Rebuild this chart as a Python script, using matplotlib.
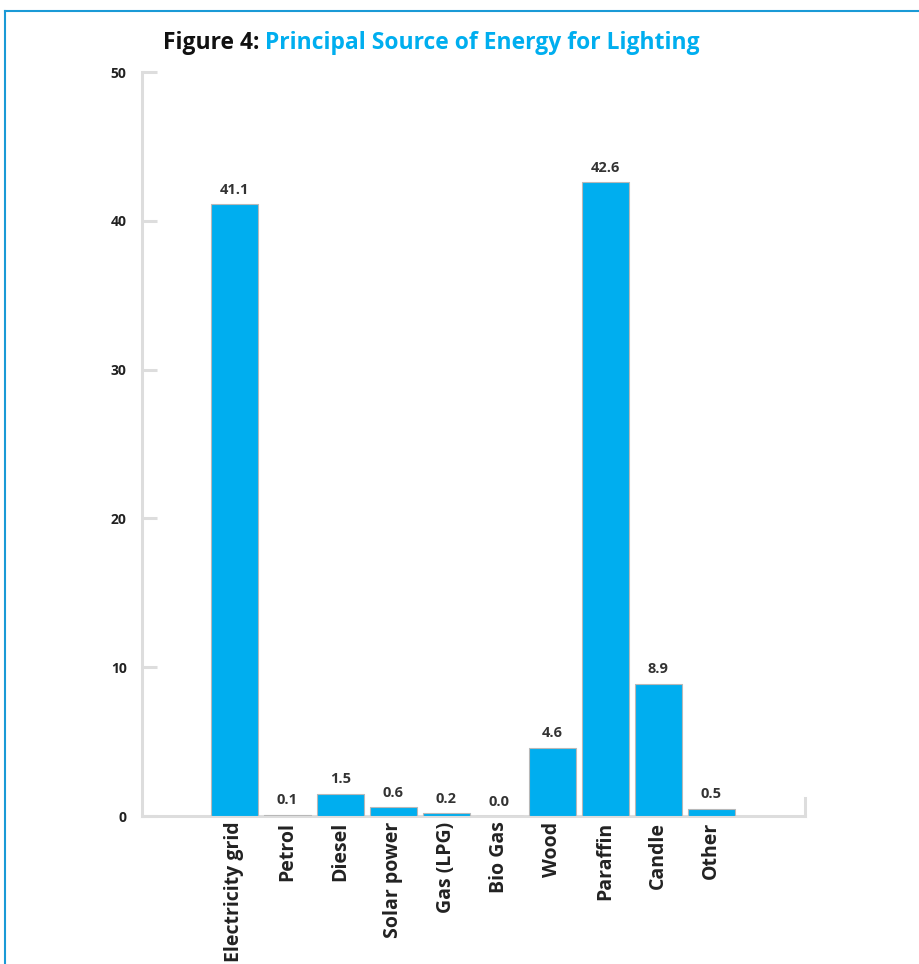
import matplotlib
matplotlib.use("Agg")
import matplotlib.pyplot as plt
from matplotlib.lines import Line2D
import numpy as np

# data
categories = ["Electricity grid", "Petrol", "Diesel", "Solar power", "Gas (LPG)",
              "Bio Gas", "Wood", "Paraffin", "Candle", "Other"]
values = [41.1, 0.1, 1.5, 0.6, 0.2, 0.0, 4.6, 42.6, 8.9, 0.5]
y_ticks = [0, 10, 20, 30, 40, 50]

BLUE = "#00aeef"
SPINE = "#dddddd"
FONT = "Open Sans"

fig = plt.figure(figsize=(9.2, 9.64), dpi=100)
ax = fig.add_axes([142 / 920, 1 - 816 / 964, (805 - 142) / 920, (816 - 72) / 964])

x = np.arange(len(categories))
bars = ax.bar(x, values, width=0.89, color=BLUE, edgecolor="#b8b8b8", linewidth=0.8, zorder=3)

for xi, v in zip(x, values):
    ax.text(xi, v + 0.5, f"{v:.1f}", ha="center", va="bottom", fontsize=10.5,
            fontweight="bold", color="#333333", family=FONT)

ax.set_xlim(-1.74, 10.77)
ax.set_ylim(0, 50)
ax.set_yticks(y_ticks)
ax.set_yticklabels([str(t) for t in y_ticks], fontsize=10, fontweight="bold",
                   color="#222222", family=FONT)
ax.set_xticks(x)
ax.set_xticklabels(categories, rotation=90, fontsize=14, fontweight="bold",
                   color="#222222", family=FONT, va="top")

for s in ["top", "right"]:
    ax.spines[s].set_visible(False)
for s in ["left", "bottom"]:
    ax.spines[s].set_color(SPINE)
    ax.spines[s].set_linewidth(2.2)

ax.tick_params(axis="y", direction="in", length=11, width=2.2, color=SPINE, pad=11)
ax.tick_params(axis="x", length=0, pad=4)

# small upturn at the right end of the baseline
ax.add_line(Line2D([1, 1], [0, 0.024], transform=ax.transAxes, color=SPINE,
                   linewidth=2.2, clip_on=False))

# page frame
fig.add_artist(Line2D([5 / 920, 5 / 920], [0, 1 - 11 / 964], transform=fig.transFigure,
                      color="#1a9ad6", linewidth=1.5))
fig.add_artist(Line2D([5 / 920, 1], [1 - 11 / 964, 1 - 11 / 964], transform=fig.transFigure,
                      color="#1a9ad6", linewidth=1.5))

# two-colour title
t1 = fig.text(163 / 920, 1 - 43 / 964, "Figure 4: ", fontsize=16.5, fontweight="bold",
              color="#111111", family=FONT, va="center", ha="left")
fig.canvas.draw()
bb = t1.get_window_extent()
fig.text(bb.x1 / fig.bbox.width, 1 - 43 / 964, "Principal Source of Energy for Lighting",
         fontsize=16.5, fontweight="bold", color=BLUE, family=FONT, va="center", ha="left")

fig.savefig("out.png", dpi=100)
